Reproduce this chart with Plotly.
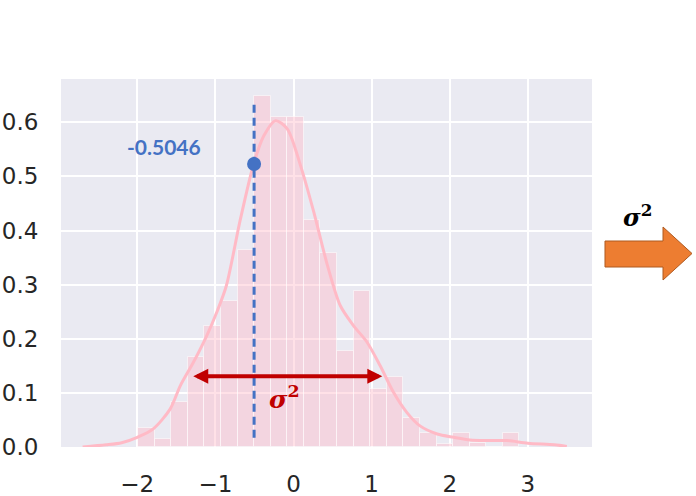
import plotly.graph_objects as go

# ---------------- data ----------------
bin_start = -1.99
bin_width = 0.2123
hist_density = [0.035, 0.015, 0.084, 0.166, 0.224, 0.269, 0.364, 0.648, 0.609, 0.609,
                0.420, 0.359, 0.177, 0.289, 0.108, 0.130, 0.053, 0.025, 0.005, 0.026,
                0.007, 0.0, 0.026]

kde_x = [-2.7, -2.4, -2.2, -2.0, -1.8, -1.58, -1.45, -1.28, -1.11, -0.98, -0.86, -0.68,
         -0.51, -0.38, -0.23, -0.08, 0.09, 0.26, 0.43, 0.6, 0.77, 0.94, 1.11, 1.28, 1.45,
         1.62, 1.84, 2.05, 2.26, 2.48, 2.73, 3.0, 3.34, 3.5]
kde_y = [0.0, 0.004, 0.008, 0.018, 0.033, 0.070, 0.113, 0.157, 0.206, 0.250, 0.298, 0.421,
         0.523, 0.575, 0.603, 0.588, 0.520, 0.434, 0.338, 0.261, 0.224, 0.194, 0.150, 0.101,
         0.064, 0.039, 0.024, 0.018, 0.013, 0.012, 0.012, 0.007, 0.004, 0.001]

sample_value = -0.5046
sample_density = 0.523
vline_y = [0.017, 0.640]
label_text = "-0.5046"
label_pos = (-1.658, 0.5545)

var_arrow_x = [-1.303, 1.137]
var_arrow_y = 0.1307
var_label_pos = (-0.109, 0.092)

x_range = [-2.977, 3.822]
y_range = [0.0, 0.68]
x_ticks = [-2, -1, 0, 1, 2, 3]
y_ticks = [0.0, 0.1, 0.2, 0.3, 0.4, 0.5, 0.6]

# ---------------- figure ----------------
W, H = 696, 496
ML, MR, MT, MB = 61, 104, 79, 49
PW = W - ML - MR
PH = H - MT - MB

bar_x = [bin_start + (i + 0.5) * bin_width for i in range(len(hist_density))]

fig = go.Figure()
fig.add_trace(go.Bar(
    x=bar_x, y=hist_density, width=bin_width,
    marker=dict(color="rgba(255,188,202,0.45)",
                line=dict(color="rgba(255,255,255,0.55)", width=1)),
    hoverinfo="skip"))
fig.add_trace(go.Scatter(
    x=kde_x, y=kde_y, mode="lines",
    line=dict(color="#FFBAC6", width=3, shape="spline", smoothing=0.8),
    hoverinfo="skip"))
fig.add_trace(go.Scatter(
    x=[sample_value, sample_value], y=vline_y, mode="lines",
    line=dict(color="#4472C4", width=3, dash="8px,5px"), hoverinfo="skip"))
fig.add_trace(go.Scatter(
    x=[sample_value], y=[sample_density], mode="markers",
    marker=dict(color="#4472C4", size=14), hoverinfo="skip"))

annotations = [
    dict(x=label_pos[0], y=label_pos[1], xref="x", yref="y", text="<b>" + label_text + "</b>",
         showarrow=False, font=dict(family="Lato", size=21, color="#4472C4"),
         xanchor="center", yanchor="middle"),
    dict(x=var_arrow_x[1], y=var_arrow_y, ax=var_arrow_x[0], ay=var_arrow_y,
         xref="x", yref="y", axref="x", ayref="y", text="", showarrow=True,
         arrowside="end+start", arrowhead=2, startarrowhead=2, arrowwidth=4,
         arrowsize=0.75, startarrowsize=0.75, arrowcolor="#C00000",
         standoff=0, startstandoff=0),
    dict(x=var_label_pos[0], y=var_label_pos[1], xref="x", yref="y",
         text="<b><i>σ</i><sup>2</sup></b>", showarrow=False,
         font=dict(family="DejaVu Serif", size=25, color="#C00000"),
         xanchor="center", yanchor="middle"),
]


def paper(px, py):
    return ((px - ML) / PW, (H - MB - py) / PH)


# orange block arrow (outside plot area), geometry in page pixels
body_l, body_r, body_t, body_b = 605, 663, 241, 267
head_t, head_b, tip_x, mid_y = 227, 280, 692, 253.5
pts = [paper(body_l, body_t), paper(body_r, body_t), paper(body_r, head_t),
       paper(tip_x, mid_y), paper(body_r, head_b), paper(body_r, body_b),
       paper(body_l, body_b)]
path = "M " + " L ".join(f"{x:.5f},{y:.5f}" for x, y in pts) + " Z"
shapes = [dict(type="path", xref="paper", yref="paper", path=path,
               fillcolor="#ED7D31", line=dict(color="#AE5A21", width=1), layer="above")]

sx, sy = paper(637, 216)
annotations.append(dict(x=sx, y=sy, xref="paper", yref="paper",
                        text="<b><i>σ</i><sup>2</sup></b>", showarrow=False,
                        font=dict(family="DejaVu Serif", size=24, color="#000000"),
                        xanchor="center", yanchor="middle"))

tick_font = dict(family="DejaVu Sans", size=23, color="#262626")
fig.update_layout(
    width=W, height=H,
    margin=dict(l=ML, r=MR, t=MT, b=MB, pad=0, autoexpand=False),
    paper_bgcolor="white", plot_bgcolor="#EAEAF2",
    showlegend=False, bargap=0,
    shapes=shapes, annotations=annotations,
    xaxis=dict(range=x_range, tickvals=x_ticks, showgrid=True, gridcolor="white",
               gridwidth=2, zeroline=False, showline=False, tickfont=tick_font,
               ticks="outside", ticklen=16, tickcolor="rgba(0,0,0,0)",
               fixedrange=True, automargin=False),
    yaxis=dict(range=y_range, tickvals=y_ticks, tickformat=".1f", showgrid=True,
               gridcolor="white", gridwidth=2, zeroline=False, showline=False,
               tickfont=tick_font, ticks="outside", ticklen=17,
               tickcolor="rgba(0,0,0,0)", fixedrange=True, automargin=False),
)

fig.write_html("out.html",
               config={"displayModeBar": False},
               post_script="document.body.style.margin='0px';"
                           "document.body.style.overflow='hidden';")
